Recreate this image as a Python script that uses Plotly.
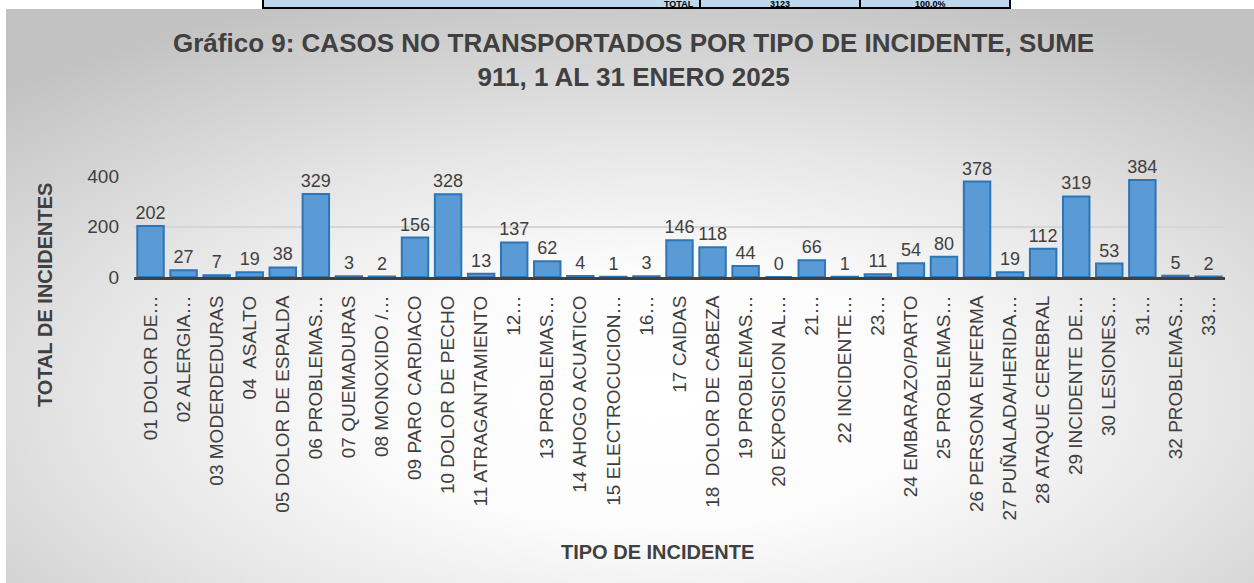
import base64
import plotly.graph_objects as go

categories = [
    "01 DOLOR DE…", "02 ALERGIA…", "03 MODERDEDURAS", "04  ASALTO",
    "05 DOLOR DE ESPALDA", "06 PROBLEMAS…", "07 QUEMADURAS", "08 MONOXIDO /…",
    "09 PARO CARDIACO", "10 DOLOR DE PECHO", "11 ATRAGANTAMIENTO", "12…",
    "13 PROBLEMAS…", "14 AHOGO ACUATICO", "15 ELECTROCUCION…", "16…",
    "17 CAIDAS", "18  DOLOR DE CABEZA", "19 PROBLEMAS…", "20 EXPOSICION AL…",
    "21…", "22 INCIDENTE…", "23…", "24 EMBARAZO/PARTO", "25 PROBLEMAS…",
    "26 PERSONA ENFERMA", "27 PUÑALADA/HERIDA…", "28 ATAQUE CEREBRAL",
    "29 INCIDENTE DE…", "30 LESIONES…", "31…", "32 PROBLEMAS…", "33…",
]
values = [202, 27, 7, 19, 38, 329, 3, 2, 156, 328, 13, 137, 62, 4, 1, 3,
          146, 118, 44, 0, 66, 1, 11, 54, 80, 378, 19, 112, 319, 53, 384, 5, 2]
y_ticks = [0, 200, 400]
table_texts = ["TOTAL", "3123", "100.0%"]

W, H = 1254, 583
L, R, T, B = 134, 29, 176, 306
PW = W - L - R
PH = H - T - B
FONT = "Liberation Sans, Arial, sans-serif"
TXT = "#404040"


def xp(px):
    return (px - L) / PW


def yp(py):
    return (H - B - py) / PH


svg = (
    '<svg xmlns="http://www.w3.org/2000/svg" width="1248" height="574" '
    'viewBox="0 0 100 100" preserveAspectRatio="none">'
    '<defs><radialGradient id="g" cx="52%" cy="68%" r="75%">'
    '<stop offset="0" stop-color="#FFFFFF"/>'
    '<stop offset="0.3" stop-color="#FCFCFC"/>'
    '<stop offset="0.6" stop-color="#E6E6E6"/>'
    '<stop offset="1" stop-color="#C2C2C2"/>'
    '</radialGradient></defs>'
    '<rect x="0" y="0" width="100" height="100" fill="url(#g)"/></svg>'
)
bg_uri = "data:image/svg+xml;base64," + base64.b64encode(svg.encode()).decode()

fig = go.Figure()
fig.add_trace(go.Bar(
    x=categories, y=values,
    marker=dict(color="#5B9BD5", line=dict(color="#2E75B6", width=2)),
    width=0.8,
    text=[str(v) for v in values], textposition="outside",
    constraintext="none", cliponaxis=False,
    textfont=dict(family=FONT, size=18, color=TXT),
    hoverinfo="x+y",
))

shapes = [
    dict(type="rect", xref="paper", yref="paper", x0=xp(263), x1=xp(1010),
         y0=yp(8), y1=yp(-30), fillcolor="#BDD7EE",
         line=dict(color="#000000", width=2), layer="above"),
    dict(type="line", xref="paper", yref="paper", x0=xp(700), x1=xp(700),
         y0=yp(8), y1=yp(-30), line=dict(color="#000000", width=2)),
    dict(type="line", xref="paper", yref="paper", x0=xp(860), x1=xp(860),
         y0=yp(8), y1=yp(-30), line=dict(color="#000000", width=2)),
]

annotations = [
    dict(text="<b>Gráfico 9: CASOS NO TRANSPORTADOS POR TIPO DE INCIDENTE, SUME<br>911, 1 AL 31 ENERO 2025</b>",
         xref="paper", yref="paper", x=xp(633), y=yp(60), xanchor="center", yanchor="middle",
         showarrow=False, font=dict(family=FONT, size=26, color=TXT)),
    dict(text="<b>TOTAL DE INCIDENTES</b>", xref="paper", yref="paper",
         x=xp(45), y=yp(295), textangle=-90, xanchor="center", yanchor="middle",
         showarrow=False, font=dict(family=FONT, size=20, color=TXT)),
    dict(text="<b>TIPO DE INCIDENTE</b>", xref="paper", yref="paper",
         x=xp(657), y=yp(552), xanchor="center", yanchor="middle",
         showarrow=False, font=dict(family=FONT, size=20, color=TXT)),
]
for txt, px, anchor in zip(table_texts, [695, 780, 930], ["right", "center", "center"]):
    annotations.append(dict(
        text="<b>" + txt + "</b>", xref="paper", yref="paper",
        x=xp(px), y=yp(4), xanchor=anchor, yanchor="middle",
        showarrow=False, borderpad=0, font=dict(family=FONT, size=9, color="#000000")))

fig.update_layout(
    width=W, height=H,
    margin=dict(l=L, r=R, t=T, b=B, autoexpand=False),
    paper_bgcolor="#FFFFFF", plot_bgcolor="rgba(0,0,0,0)",
    showlegend=False, bargap=0.2,
    font=dict(family=FONT, color=TXT),
    images=[dict(source=bg_uri, xref="paper", yref="paper",
                 x=xp(6), y=yp(9), sizex=1248 / PW, sizey=574 / PH,
                 xanchor="left", yanchor="top", sizing="stretch", layer="below")],
    shapes=shapes,
    annotations=annotations,
    xaxis=dict(
        type="category", tickangle=-90, automargin=False,
        showline=True, linecolor="#404040", linewidth=3,
        showgrid=False, ticks="", ticklabelstandoff=8,
        tickfont=dict(family=FONT, size=19, color=TXT),
    ),
    yaxis=dict(
        range=[0, 400], tickvals=y_ticks, automargin=False,
        showgrid=True, gridcolor="#D6D6D6", gridwidth=2,
        zeroline=False, showline=False, ticks="", ticklabelstandoff=14,
        tickfont=dict(family=FONT, size=19, color=TXT),
    ),
)

fig.write_html(
    "out.html",
    config={"displayModeBar": False},
    post_script="document.body.style.margin='0';document.body.style.padding='0';",
)
